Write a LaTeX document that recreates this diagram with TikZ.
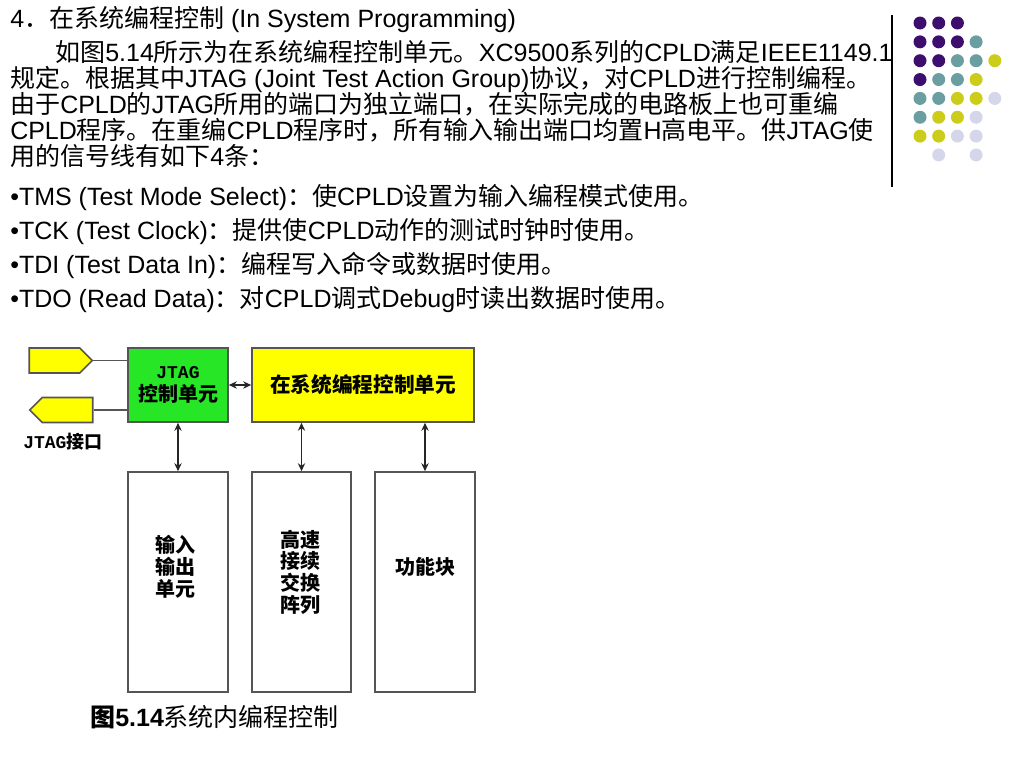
\documentclass[tikz,border=0pt]{standalone}
\usepackage{fontspec}
\setmainfont{Liberation Sans}
\setmonofont{Liberation Mono}
\newfontfamily\cjk{Noto Sans CJK SC}
\usetikzlibrary{shapes.symbols,arrows.meta}
% automatic switch to the CJK font for CJK characters
\XeTeXinterchartokenstate=1
\newXeTeXintercharclass\zhclass
\newcount\zhc
\zhc="4E00 \loop\XeTeXcharclass\zhc=\zhclass\advance\zhc by 1 \ifnum\zhc<"A000 \repeat
\zhc="3000 \loop\XeTeXcharclass\zhc=\zhclass\advance\zhc by 1 \ifnum\zhc<"3040 \repeat
\zhc="FF00 \loop\XeTeXcharclass\zhc=\zhclass\advance\zhc by 1 \ifnum\zhc<"FFF0 \repeat
\makeatletter
\def\latfam{\rmdefault}
\def\zhon{\edef\latfam{\f@family}\cjk}
\def\zhoff{\fontfamily{\latfam}\selectfont}
\makeatother
\XeTeXinterchartoks 0 \zhclass = {\zhon}
\XeTeXinterchartoks 4095 \zhclass = {\zhon}
\XeTeXinterchartoks \zhclass 0 = {\zhoff}
\XeTeXinterchartoks \zhclass 4095 = {\zhoff}
\definecolor{dpur}{RGB}{62,14,110}
\definecolor{dteal}{RGB}{106,158,160}
\definecolor{dolive}{RGB}{204,204,26}
\definecolor{dlav}{RGB}{214,214,234}
\definecolor{grn}{RGB}{38,230,38}
\definecolor{yel}{RGB}{255,255,0}
\definecolor{boxgray}{RGB}{85,85,85}
\tikzset{
  txt/.style={anchor=base west, inner sep=0pt, font=\fontsize{18.75pt}{19.5pt}\selectfont},
  blk/.style={draw=boxgray, line width=1.2pt, inner sep=0pt, align=center},
  boxtxt/.style={inner sep=0pt, align=center, font=\bfseries\fontsize{15pt}{16.3pt}\selectfont},
  plain/.style={draw=boxgray, line width=1pt},
  conn/.style={draw=black!85, line width=1pt, {Stealth[length=6pt,width=5.5pt]}-{Stealth[length=6pt,width=5.5pt]}},
  dot/.style={circle, inner sep=0pt, minimum size=9.75pt},
  sig/.style={signal, signal pointer angle=90, draw=boxgray, fill=yel, line width=1.2pt, minimum width=47.25pt, minimum height=18.75pt, inner sep=0pt},
}
\begin{document}
\begin{tikzpicture}[x=0.75pt,y=-0.75pt]
\useasboundingbox (0,0) rectangle (1024,768);
% text
\node[txt] (t1) at (10,27) {4．在系统编程控制 (In System Programming)};
\node[txt] (t2) at (55,61) {如图5.14所示为在系统编程控制单元。XC9500系列的CPLD满足IEEE1149.1};
\node[txt] (t3) at (10,87) {规定。根据其中JTAG (Joint Test Action Group)协议，对CPLD进行控制编程。};
\node[txt] (t4) at (10,113) {由于CPLD的JTAG所用的端口为独立端口，在实际完成的电路板上也可重编};
\node[txt] (t5) at (10,139) {CPLD程序。在重编CPLD程序时，所有输入输出端口均置H高电平。供JTAG使};
\node[txt] (t6) at (10,165) {用的信号线有如下4条：};
\node[txt] (b1) at (10,205) {•TMS (Test Mode Select)：使CPLD设置为输入编程模式使用。};
\node[txt] (b2) at (10,239) {•TCK (Test Clock)：提供使CPLD动作的测试时钟时使用。};
\node[txt] (b3) at (10,273) {•TDI (Test Data In)：编程写入命令或数据时使用。};
\node[txt] (b4) at (10,307) {•TDO (Read Data)：对CPLD调式Debug时读出数据时使用。};
% vertical rule and dots
\coordinate (r1) at (892,15);
\coordinate (r2) at (892,187);
\draw[line width=1.1pt] (r1) -- (r2);
\foreach \i/\j/\c in {0/0/dpur,1/0/dpur,2/0/dpur,
  0/1/dpur,1/1/dpur,2/1/dpur,3/1/dteal,
  0/2/dpur,1/2/dpur,2/2/dteal,3/2/dteal,4/2/dolive,
  0/3/dpur,1/3/dteal,2/3/dteal,3/3/dolive,
  0/4/dteal,1/4/dteal,2/4/dolive,3/4/dolive,4/4/dlav,
  0/5/dteal,1/5/dolive,2/5/dolive,3/5/dlav,
  0/6/dolive,1/6/dolive,2/6/dlav,3/6/dlav,
  1/7/dlav,3/7/dlav}
  \node[dot, fill=\c] (d\i\j) at ({920+18.7*\i},{23+18.85*\j}) {};
% diagram
\node[sig, signal to=east] (pin) at (54.5,360.5) {};
\node[sig, signal to=west] (pout) at (67.5,410) {};
\node[blk, fill=grn, minimum width=75pt, minimum height=55.5pt, font=\bfseries\fontsize{15pt}{17pt}\selectfont] (jtag) at (178,385) {{\ttfamily\fontsize{13.5pt}{17pt}\selectfont JTAG}\\控制单元};
\node[blk, fill=yel, minimum width=166.5pt, minimum height=55.5pt, font=\bfseries\fontsize{15.5pt}{17pt}\selectfont] (isp) at (363,385) {在系统编程控制单元};
\node[blk, minimum width=75pt, minimum height=165pt] (io) at (178,582) {};
\node[blk, minimum width=74.25pt, minimum height=165pt] (sw) at (301.5,582) {};
\node[blk, minimum width=75pt, minimum height=165pt] (fb) at (425,582) {};
\node[boxtxt] (iot) at (175,567) {输入\\输出\\单元};
\node[boxtxt] (swt) at (300,572) {高速\\接续\\交换\\阵列};
\node[boxtxt] (fbt) at (425,567) {功能块};
\node[anchor=west, inner sep=0pt, font=\ttfamily\bfseries\fontsize{13.5pt}{15pt}\selectfont] (lbl) at (23,442) {JTAG接口};
\draw[plain] (pin.east) -- (pin.east -| jtag.west);
\draw[plain] (pout.east) -- (pout.east -| jtag.west);
\draw[conn] (jtag.east) -- (isp.west);
\draw[conn] (jtag.south) -- (io.north);
\draw[conn] (sw.north |- isp.south) -- (sw.north);
\draw[conn] (fb.north |- isp.south) -- (fb.north);
\node[txt] (cap) at (90,726) {{\bfseries 图5.14}系统内编程控制};
\end{tikzpicture}
\end{document}
